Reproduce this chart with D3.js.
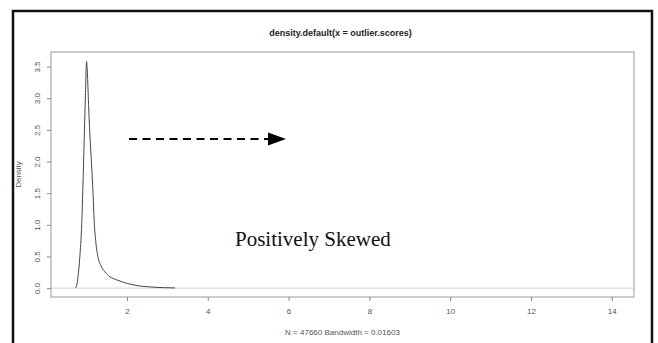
<!DOCTYPE html>
<html>
<head>
<meta charset="utf-8">
<script src="https://cdn.jsdelivr.net/npm/d3@7/dist/d3.min.js"></script>
<style>
  html, body { margin: 0; padding: 0; background: #fff; }
  svg { display: block; }
</style>
</head>
<body>
<svg id="chart" width="658" height="343"></svg>
<script>
// Kernel density estimate of outlier scores (x = score, y = density)
const scoreX = [0.72, 0.76, 0.80, 0.84, 0.88, 0.91, 0.94, 0.97, 1.00, 1.02, 1.05, 1.08, 1.12, 1.16, 1.19, 1.23, 1.28, 1.35, 1.45, 1.58, 1.75, 1.92, 2.10, 2.25, 2.45, 2.65, 2.90, 3.19];
const densityY = [0.00, 0.05, 0.25, 0.55, 1.00, 1.60, 2.30, 3.00, 3.58, 3.40, 2.90, 2.45, 2.00, 1.50, 1.05, 0.72, 0.50, 0.36, 0.26, 0.18, 0.13, 0.09, 0.06, 0.04, 0.025, 0.015, 0.008, 0.003];

const xTicks = [2, 4, 6, 8, 10, 12, 14];
const yTicks = [0.0, 0.5, 1.0, 1.5, 2.0, 2.5, 3.0, 3.5];

const titleText = "density.default(x = outlier.scores)";
const subText = "N = 47660   Bandwidth = 0.01603";
const yLabelText = "Density";
const noteText = "Positively Skewed";

const svg = d3.select("#chart");
const plot = { left: 51, right: 634, top: 52, bottom: 297 };

const x = d3.scaleLinear().domain([0.12, 14.55]).range([plot.left, plot.right]);
const y = d3.scaleLinear().domain([-0.14, 3.73]).range([plot.bottom, plot.top]);

// outer frame (open at the bottom)
svg.append("path")
  .attr("d", `M13,343 L13,11 L652,11 L652,343`)
  .attr("fill", "none").attr("stroke", "#111").attr("stroke-width", 2.5);

// zero reference line
svg.append("line")
  .attr("x1", plot.left).attr("x2", plot.right)
  .attr("y1", y(0)).attr("y2", y(0))
  .attr("stroke", "#d4d4d4").attr("stroke-width", 1);

// plot box
svg.append("rect")
  .attr("x", plot.left).attr("y", plot.top)
  .attr("width", plot.right - plot.left).attr("height", plot.bottom - plot.top)
  .attr("fill", "none").attr("stroke", "#9a9a9a").attr("stroke-width", 1);

// x axis
const xAxis = svg.append("g")
  .attr("transform", `translate(0,${plot.bottom})`)
  .call(d3.axisBottom(x).tickValues(xTicks).tickSize(4).tickPadding(7).tickFormat(d3.format("d")));
xAxis.select(".domain").remove();
xAxis.selectAll("line").attr("stroke", "#8a8a8a");
xAxis.selectAll("text").attr("fill", "#555").style("font", "8px Arial, 'Liberation Sans', sans-serif");

// y axis with rotated labels
const yAxis = svg.append("g")
  .attr("transform", `translate(${plot.left},0)`)
  .call(d3.axisLeft(y).tickValues(yTicks).tickSize(4).tickFormat(d3.format(".1f")));
yAxis.select(".domain").remove();
yAxis.selectAll("line").attr("stroke", "#8a8a8a");
yAxis.selectAll("text")
  .attr("fill", "#555")
  .attr("x", null).attr("dy", null)
  .attr("text-anchor", "middle")
  .attr("transform", "translate(-11,0) rotate(-90)")
  .style("font", "8px Arial, 'Liberation Sans', sans-serif");

// density curve
const line = d3.line()
  .x((d, i) => x(scoreX[i]))
  .y(d => y(d))
  .curve(d3.curveMonotoneX);
svg.append("path")
  .datum(densityY)
  .attr("d", line)
  .attr("fill", "none").attr("stroke", "#444").attr("stroke-width", 1);

// titles
svg.append("text")
  .attr("x", (plot.left + plot.right) / 2 - 2).attr("y", 36)
  .attr("text-anchor", "middle")
  .style("font", "bold 9px Arial, 'Liberation Sans', sans-serif")
  .attr("fill", "#222")
  .text(titleText);

svg.append("text")
  .attr("x", (plot.left + plot.right) / 2).attr("y", 335)
  .attr("text-anchor", "middle")
  .style("font", "8px Arial, 'Liberation Sans', sans-serif")
  .attr("fill", "#555")
  .text(subText);

svg.append("text")
  .attr("transform", `translate(21,${(plot.top + plot.bottom) / 2}) rotate(-90)`)
  .attr("text-anchor", "middle")
  .style("font", "8px Arial, 'Liberation Sans', sans-serif")
  .attr("fill", "#555")
  .text(yLabelText);

// dashed arrow pointing right
svg.append("line")
  .attr("x1", 129).attr("x2", 268)
  .attr("y1", 139).attr("y2", 139)
  .attr("stroke", "#000").attr("stroke-width", 2)
  .attr("stroke-dasharray", "8,5.5");
svg.append("path")
  .attr("d", "M268,132.5 L286,139 L268,145.5 Z")
  .attr("fill", "#000");

// annotation
svg.append("text")
  .attr("x", 235).attr("y", 246)
  .style("font", "21px 'Liberation Serif', 'Times New Roman', serif")
  .attr("fill", "#111")
  .text(noteText);
</script>
</body>
</html>
